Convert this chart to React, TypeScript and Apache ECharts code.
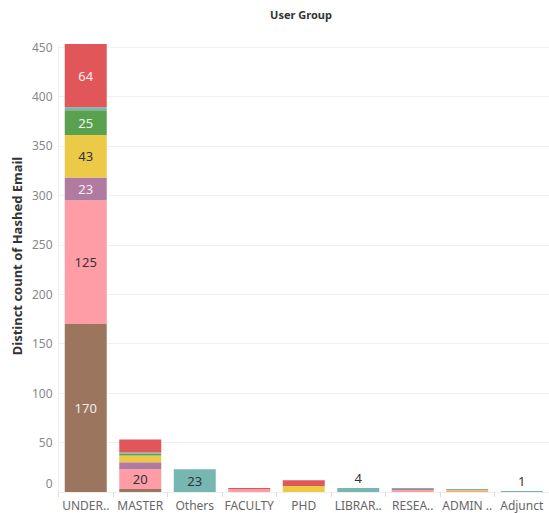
import { useEffect, useRef } from 'react';
import * as echarts from 'echarts';

// ---- data ----
const categories = ['UNDER..', 'MASTER', 'Others', 'FACULTY', 'PHD', 'LIBRAR..', 'RESEA..', 'ADMIN ..', 'Adjunct'];
const yTicks = [0, 50, 100, 150, 200, 250, 300, 350, 400, 450];
const chartTitle = 'User Group';
const yAxisTitle = 'Distinct count of Hashed Email';

// stacked segments, bottom to top
const brownValues = [170, 3, 0, 0, 0, 0, 0, 0, 0];
const pinkValues = [125, 20, 0, 3, 0, 0, 2, 1, 0];
const purpleValues = [23, 7, 0, 0, 0, 0, 1, 0, 0];
const yellowValues = [43, 7, 0, 0, 6, 0, 0, 1, 0];
const greenValues = [25, 2, 0, 0, 0, 0, 0, 0, 0];
const tealValues = [3, 1, 23, 0, 0, 4, 1, 1, 1];
const redValues = [64, 13, 0, 1, 6, 0, 0, 0, 0];

const seriesNames = ['Brown', 'Pink', 'Purple', 'Yellow', 'Green', 'Teal', 'Red'];
const seriesValues = [brownValues, pinkValues, purpleValues, yellowValues, greenValues, tealValues, redValues];

// which segments carry a label: [seriesIndex, categoryIndex, outsideOnTop]
const labelledSegments: [number, number, boolean][] = [
  [0, 0, false],
  [1, 0, false],
  [2, 0, false],
  [3, 0, false],
  [4, 0, false],
  [6, 0, false],
  [1, 1, false],
  [5, 2, false],
  [5, 5, true],
  [5, 8, true],
];

// ---- styles ----
const seriesColors = ['#9C755F', '#FF9DA7', '#B07AA1', '#EDC948', '#59A14F', '#76B7B2', '#E15759'];
const labelColors = ['#f4ece8', '#333333', '#f6eef4', '#333333', '#eef6ee', '#333333', '#fbeeee'];
const FONT = '"Noto Sans", sans-serif';

export default function App() {
  const ref = useRef<HTMLDivElement>(null);

  useEffect(() => {
    if (!ref.current) return;
    const chart = echarts.init(ref.current, null, { renderer: 'svg' });

    const series = seriesValues.map((vals, si) => ({
      name: seriesNames[si],
      type: 'bar',
      stack: 'total',
      barWidth: 42,
      clip: false,
      itemStyle: { color: seriesColors[si] },
      label: { show: false },
      data: vals.map((v, ci) => {
        const lab = labelledSegments.find((l) => l[0] === si && l[1] === ci);
        if (!lab || v === 0) return v;
        return {
          value: v,
          label: {
            show: true,
            position: lab[2] ? 'top' : 'inside',
            distance: 4,
            fontSize: 13,
            fontFamily: FONT,
            color: lab[2] ? '#333333' : labelColors[si],
          },
        };
      }),
    }));

    chart.setOption({
      animation: false,
      backgroundColor: '#ffffff',
      textStyle: { fontFamily: FONT },
      graphic: [
        {
          type: 'text',
          x: 301,
          y: 14,
          style: {
            text: chartTitle,
            fill: '#333333',
            font: `bold 11px ${FONT}`,
            textAlign: 'center',
            textVerticalAlign: 'middle',
          },
        },
        {
          type: 'text',
          x: 17,
          y: 256,
          rotation: Math.PI / 2,
          style: {
            text: yAxisTitle,
            fill: '#333333',
            font: `bold 13px ${FONT}`,
            textAlign: 'center',
            textVerticalAlign: 'middle',
          },
        },
      ],
      grid: { left: 58.5, top: 47, width: 495, height: 445, containLabel: false },
      xAxis: {
        type: 'category',
        data: categories,
        axisLine: { show: true, lineStyle: { color: '#eeeeee' } },
        axisTick: { show: true, length: 5, lineStyle: { color: '#dddddd' } },
        axisLabel: { color: '#666666', fontSize: 12, fontFamily: FONT, margin: 7, interval: 0 },
      },
      yAxis: {
        type: 'value',
        min: yTicks[0],
        max: yTicks[yTicks.length - 1],
        interval: 50,
        axisLine: { show: true, lineStyle: { color: '#eeeeee' } },
        axisTick: { show: false },
        splitLine: { show: true, lineStyle: { color: '#f0f0f0' } },
        axisLabel: {
          color: '#888888',
          fontSize: 12,
          fontFamily: FONT,
          margin: 6,
          formatter: (v: number) => (v === 0 ? '{z|0}' : String(v)),
          rich: {
            z: { color: '#888888', fontSize: 12, fontFamily: FONT, padding: [0, 0, 18, 0] },
          },
        },
      },
      series,
    });

    return () => chart.dispose();
  }, []);

  return (
    <div
      ref={ref}
      style={{ position: 'absolute', left: 0, top: 0, width: 549, height: 513, overflow: 'hidden' }}
    />
  );
}
